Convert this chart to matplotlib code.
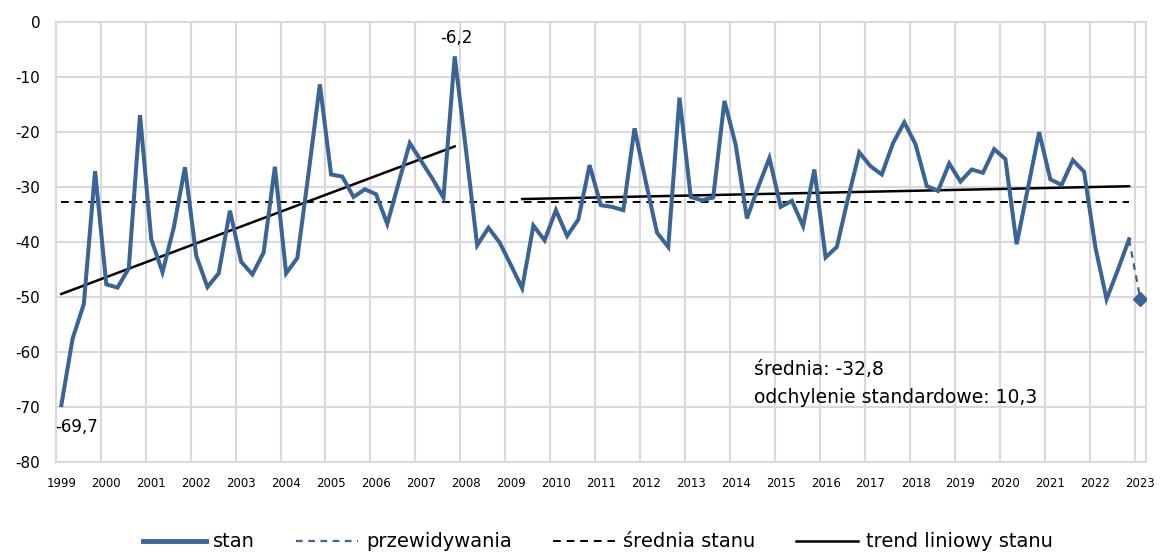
# -*- coding: utf-8 -*-

import numpy as np
import matplotlib
matplotlib.use('Agg')
import matplotlib.pyplot as plt
from matplotlib.lines import Line2D

plt.rcParams['font.family'] = ['DejaVu Sans']
plt.rcParams['axes.unicode_minus'] = False

# Quarterly data 1999 Q1 .. 2022 Q4
Years = list(range(1999, 2024))
Stan = [
    -69.7, -57.6, -51.3, -27.1,   # 1999
    -47.7, -48.3, -44.8, -16.9,   # 2000
    -39.5, -45.5, -37.4, -26.4,   # 2001
    -42.5, -48.2, -45.7, -34.3,   # 2002
    -43.6, -45.9, -41.9, -26.3,   # 2003
    -45.7, -42.9, -27.4, -11.3,   # 2004
    -27.7, -28.1, -31.8, -30.4,   # 2005
    -31.3, -36.7, -29.3, -22.0,   # 2006
    -25.2, -28.4, -31.9, -6.2,    # 2007
    -23.2, -40.6, -37.4, -40.1,   # 2008
    -44.2, -48.4, -37.0, -39.7,   # 2009
    -34.2, -38.9, -35.9, -26.0,   # 2010
    -33.3, -33.6, -34.2, -19.3,   # 2011
    -29.0, -38.3, -40.9, -13.7,   # 2012
    -31.8, -32.4, -31.9, -14.3,   # 2013
    -22.3, -35.7, -30.0, -24.7,   # 2014
    -33.6, -32.5, -37.1, -26.8,   # 2015
    -42.8, -40.9, -32.0, -23.7,   # 2016
    -26.2, -27.7, -22.0, -18.2,   # 2017
    -22.2, -29.8, -30.7, -25.7,   # 2018
    -29.0, -26.8, -27.4, -23.1,   # 2019
    -24.9, -40.4, -30.2, -20.0,   # 2020
    -28.6, -29.6, -25.1, -27.2,   # 2021
    -40.9, -50.4, -45.1, -39.5,   # 2022
]
Prognoza = -50.4          # 2023 Q1
Srednia = -32.8
Odchylenie = 10.3

# trend ranges (quarter index)
Trend1 = (0, 35)     # 1999Q1 - 2007Q4
Trend2 = (41, 95)    # 2009Q2 - 2022Q4

BLUE = '#3A6496'
GRID = '#D9D9D9'

x = np.arange(len(Stan))
y = np.array(Stan)
NQ = len(Stan) + 1

fig = plt.figure(figsize=(11.61, 5.54), dpi=100)
ax = fig.add_axes([0.048, 0.1666, 0.939, 0.7931])

# grid
for g in np.arange(-0.5, NQ, 4):
    ax.axvline(g, color=GRID, lw=1.5, zorder=0)
for v in range(-80, 1, 10):
    ax.axhline(v, color=GRID, lw=1.5, zorder=0)

# mean
ax.plot([0, len(Stan) - 1], [Srednia, Srednia], color='black', lw=1.4,
        linestyle=(0, (4, 3)), zorder=2)

# trends
for a, b in (Trend1, Trend2):
    xs = x[a:b + 1]
    k, c = np.polyfit(xs, y[a:b + 1], 1)
    ax.plot(xs, k * xs + c, color='black', lw=1.8, zorder=3)

# stan
ax.plot(x, y, color=BLUE, lw=2.9, solid_joinstyle='miter', zorder=4)
# przewidywania
ax.plot([x[-1], x[-1] + 1], [y[-1], Prognoza], color=BLUE, lw=1.6,
        linestyle=(0, (3, 2.5)), zorder=4)
ax.plot([x[-1] + 1], [Prognoza], marker='D', color=BLUE, ms=7, zorder=5)

# labels
imin = int(np.argmin(y))
imax = int(np.argmax(y))
ax.annotate('{:.1f}'.format(y[imin]).replace('.', ','), (imin, y[imin]),
            xytext=(11, -16), textcoords='offset points', ha='center', va='center', fontsize=12)
ax.annotate('{:.1f}'.format(y[imax]).replace('.', ','), (imax, y[imax]),
            xytext=(1.5, 13), textcoords='offset points', ha='center', va='center', fontsize=12)

ax.text(61.6, -63.2, 'średnia: {}'.format(str(Srednia).replace('.', ',')),
        fontsize=13.5, va='center', ha='left')
ax.text(61.6, -68.3, 'odchylenie standardowe: {}'.format(str(Odchylenie).replace('.', ',')),
        fontsize=13.5, va='center', ha='left')

ax.set_xlim(-0.5, NQ - 0.5)
ax.set_ylim(-80, 0)
ax.set_yticks(range(-80, 1, 10))
ax.set_yticklabels([str(v) for v in range(-80, 1, 10)], fontsize=11)
ax.set_xticks(np.arange(0, NQ, 4))
ax.set_xticklabels([str(yr) for yr in Years], fontsize=8.5)
ax.tick_params(axis='y', length=0, pad=11)
ax.tick_params(axis='x', length=0, pad=11)
for s in ax.spines.values():
    s.set_color(GRID)
    s.set_linewidth(1.5)

handles = [
    Line2D([], [], color=BLUE, lw=3.5),
    Line2D([], [], color=BLUE, lw=1.6, linestyle=(0, (3, 2.5))),
    Line2D([], [], color='black', lw=1.4, linestyle=(0, (4, 3))),
    Line2D([], [], color='black', lw=1.8),
]
labels = ['stan', 'przewidywania', 'średnia stanu', 'trend liniowy stanu']
fig.legend(handles, labels, loc='center', bbox_to_anchor=(0.515, 0.022), ncol=4,
           frameon=False, fontsize=14, handlelength=3.2, columnspacing=2.1, handletextpad=0.4,
           borderpad=0, borderaxespad=0)

fig.savefig('out.png', dpi=100)
